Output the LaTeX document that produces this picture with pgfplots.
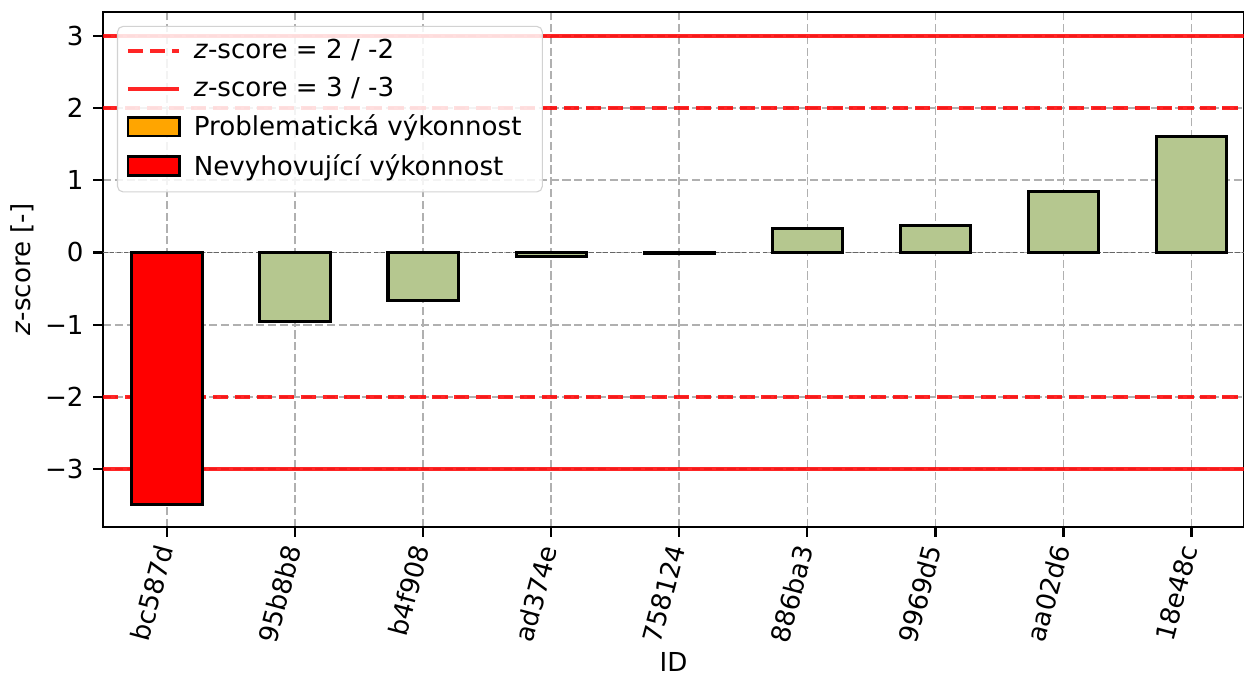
\documentclass[border=0pt]{standalone}
\usepackage{pgfplots}
\pgfplotsset{compat=1.18}
\usepackage{fontspec}
\setmainfont{DejaVu Sans}
\definecolor{okgreen}{RGB}{181,199,143}
\definecolor{warnorange}{RGB}{255,165,0}
\definecolor{gridgray}{RGB}{176,176,176}
\newcommand{\fs}{\fontsize{9.4}{11.3}\selectfont}

\begin{document}
\begin{tikzpicture}
\begin{axis}[
  name=ax,
  scale only axis,
  width=410.7pt, height=185.4pt,
  xmin=-0.5, xmax=8.41,
  ymin=-3.8, ymax=3.33,
  axis line style={black, line width=0.8pt},
  tick align=outside,
  major tick length=3.5pt,
  tick style={black, line width=0.8pt},
  xtick={0,1,2,3,4,5,6,7,8},
  xticklabels={bc587d,95b8b8,b4f908,ad374e,758124,886ba3,9969d5,aa02d6,18e48c},
  xticklabel style={rotate=75, anchor=east, font=\fs},
  ytick={-3,-2,-1,0,1,2,3},
  yticklabels={−3,−2,−1,0,1,2,3},
  yticklabel style={font=\fs},
  xtick pos=bottom, ytick pos=left,
  grid=major,
  major grid style={gridgray, dash pattern=on 2.96pt off 1.28pt, line width=0.6pt},
  xlabel={ID},
  xlabel style={font=\fs, yshift=5pt},
  ylabel={\textit{z}-score [-]},
  ylabel style={font=\fs, yshift=-3pt},
  legend cell align=left,
  legend style={at={(axis description cs:0,1)}, anchor=north west,
    xshift=5pt, yshift=-5pt, draw=gray!35, rounded corners=2pt,
    fill=white, fill opacity=0.85, text opacity=1, font=\fs,
    row sep=1.2pt, inner xsep=3pt, inner ysep=2.5pt,
    nodes={inner xsep=4.5pt}},
  legend image code/.code={\draw[sharp corners, #1] (0cm,0cm) -- (0.65cm,0cm);},
]
% reference lines at +-2 (dashed) and +-3 (solid)
\addplot[red, line width=1.5pt, dash pattern=on 5.5pt off 2.4pt, opacity=0.85] coordinates {(-0.5,2) (8.41,2)};
\addlegendentry{\textit{z}-score = 2 / -2}
\addplot[red, line width=1.5pt, opacity=0.85] coordinates {(-0.5,3) (8.41,3)};
\addlegendentry{\textit{z}-score = 3 / -3}
\addplot[forget plot, red, line width=1.5pt, dash pattern=on 5.5pt off 2.4pt, opacity=0.85] coordinates {(-0.5,-2) (8.41,-2)};
\addplot[forget plot, red, line width=1.5pt, opacity=0.85] coordinates {(-0.5,-3) (8.41,-3)};
% zero line
\addplot[forget plot, black!60, line width=0.6pt, dash pattern=on 1.6pt off 0.9pt] coordinates {(-0.5,0) (8.41,0)};
% legend entries for the performance categories
\addlegendimage{legend image code/.code={\draw[sharp corners, fill opacity=1, fill=warnorange, draw=black, line width=1pt] (0cm,-0.11cm) rectangle (0.65cm,0.13cm);}}
\addlegendentry{Problematická výkonnost}
\addlegendimage{legend image code/.code={\draw[sharp corners, fill opacity=1, fill=red, draw=black, line width=1pt] (0cm,-0.11cm) rectangle (0.65cm,0.13cm);}}
\addlegendentry{Nevyhovující výkonnost}
% bars
\addplot[forget plot, ybar, bar width=0.55, bar shift=0pt, fill=okgreen, draw=black, line width=1.1pt]
  coordinates {(1,-0.95) (2,-0.66) (3,-0.05) (4,-0.01) (5,0.33) (6,0.37) (7,0.85) (8,1.60)};
\addplot[forget plot, ybar, bar width=0.55, bar shift=0pt, fill=red, draw=black, line width=1.1pt]
  coordinates {(0,-3.49)};
\end{axis}
\pgfresetboundingbox
\path[use as bounding box] ([xshift=-37.1pt, yshift=-54.7pt]ax.south west) rectangle ([yshift=4.3pt]ax.north east);
\end{tikzpicture}
\end{document}
